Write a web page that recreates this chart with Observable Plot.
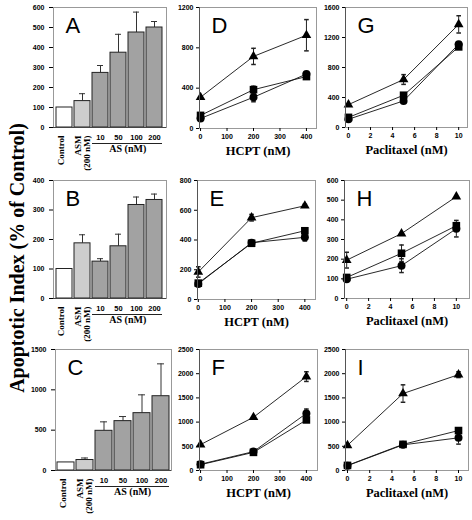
<!DOCTYPE html>
<html><head><meta charset="utf-8">
<script src="https://cdn.jsdelivr.net/npm/d3@7"></script>
<script src="https://cdn.jsdelivr.net/npm/@observablehq/plot@0.6"></script>
<style>
body{margin:0;background:#fff;}
#fig{position:relative;width:472px;height:520px;overflow:hidden;background:#fff;}
#fig svg{position:absolute;}
#ytitle{position:absolute;width:340px;left:-154px;top:248px;height:20px;line-height:20px;text-align:center;
  transform:rotate(-90deg);font:bold 20px 'Liberation Serif','Times New Roman',serif;white-space:nowrap;color:#000;}
</style></head>
<body><div id="fig"><div id="ytitle">Apoptotic Index (% of Control)</div></div>
<script>
// ---------- data ----------
const barCategories = ["Control","ASM","10","50","100","200"];
const barKinds = ["control","asm","as","as","as","as"];
const barA = [100,132,273,374,475,500];
const barAErr = [0,37,37,92,102,30];
const barB = [100,187,125,177,317,334];
const barBErr = [0,29,10,41,27,20];
const barC = [100,130,492,612,711,921];
const barCErr = [0,25,111,57,227,401];
const barATicks = [0,100,200,300,400,500,600];
const barBTicks = [0,100,200,300,400];
const barCTicks = [0,500,1000,1500];

const hcptDoses = [0,200,400];
const hcptTicks = [0,100,200,300,400];
const paclitaxelDoses = [0,5,10];
const paclitaxelTicks = [0,2,4,6,8,10];

const dTri = [310,715,925],   dTriErr = [0,80,155];
const dSq  = [130,385,515],   dSqErr  = [0,35,0];
const dCirc= [100,310,540],   dCircErr= [20,45,20];
const dTicks = [0,400,800,1200];

const eTri = [185,550,630],   eTriErr = [35,22,10];
const eSq  = [110,378,462],   eSqErr  = [10,0,10];
const eCirc= [105,382,418],   eCircErr= [10,10,25];
const eTicks = [0,200,400,600,800];

const fTri = [535,1100,1940], fTriErr = [0,0,100];
const fSq  = [120,375,1045],  fSqErr  = [0,0,0];
const fCirc= [130,390,1180],  fCircErr= [0,0,90];
const fTicks = [0,500,1000,1500,2000,2500];

const gTri = [305,640,1375],  gTriErr = [0,65,115];
const gSq  = [135,430,1075],  gSqErr  = [0,0,30];
const gCirc= [110,355,1110],  gCircErr= [0,0,20];
const gTicks = [0,400,800,1200,1600];

const hTri = [195,330,518],   hTriErr = [40,0,0];
const hSq  = [107,230,370],   hSqErr  = [0,42,15];
const hCirc= [98,167,355],    hCircErr= [0,35,42];
const hTicks = [0,100,200,300,400,500,600];

const iTri = [520,1590,1980], iTriErr = [0,180,60];
const iSq  = [105,540,825],   iSqErr  = [0,0,0];
const iCirc= [100,530,675],   iCircErr= [0,0,130];
const iTicks = [0,500,1000,1500,2000,2500];

// ---------- helpers ----------
const SANS = "'Liberation Sans', Arial, sans-serif";
const SERIF = "'Liberation Serif', 'Times New Roman', serif";
const M = {l:42, r:8, t:8, b:52};
const fig = document.getElementById("fig");
const capSymbol = {draw(ctx, size){ const w = Math.sqrt(size/Math.PI); ctx.moveTo(-w,0); ctx.lineTo(w,0); }};
const plain = d => String(d);

function baseOpts(box){
  return {width: box[2]-box[0]+M.l+M.r, height: box[3]-box[1]+M.t+M.b,
    marginLeft:M.l, marginRight:M.r, marginTop:M.t, marginBottom:M.b,
    style:{background:"transparent", overflow:"visible", fontFamily:SANS, color:"#000"}};
}
function place(svg, box){
  svg.style.left = (box[0]-M.l)+"px";
  svg.style.top = (box[1]-M.t)+"px";
  fig.appendChild(svg);
}
function letterMark(letter){
  return Plot.text([letter], {text:d=>d, frameAnchor:"top-left", dx:12, dy:10, lineAnchor:"top",
    fontSize:22, fontFamily:SANS, fill:"#000"});
}

function barPanel(box, letter, values, errs, yMax, yTicks){
  const rows = barCategories.map((c,i)=>({cat:c, v:values[i], top:values[i]+errs[i], kind:barKinds[i]}));
  const errRows = rows.filter(d=>d.top>d.v);
  const xs = d3.scaleBand(barCategories,[0, box[2]-box[0]]).padding(0.1);
  const svg = Plot.plot({
    ...baseOpts(box),
    x:{domain:barCategories, padding:0.1, axis:null},
    y:{domain:[0,yMax], axis:null},
    color:{domain:["control","asm","as"], range:["#ffffff","#cdcdcd","#a2a2a2"]},
    marks:[
      Plot.ruleX(errRows,{x:"cat", y1:"v", y2:"top", stroke:"#333"}),
      Plot.tickY(errRows,{x:"cat", y:"top", stroke:"#333", insetLeft:5, insetRight:5}),
      Plot.barY(rows,{x:"cat", y:"v", fill:"kind", stroke:"#222"}),
      Plot.frame({stroke:"#999"}),
      Plot.axisY({ticks:yTicks, tickSize:4, tickPadding:5, fontSize:7, fontWeight:"bold", label:null, tickFormat:plain}),
      Plot.ruleY([0],{stroke:"#444"}),
      Plot.text([{cat:"Control", t:"Control"}],{x:"cat", text:"t", frameAnchor:"bottom", dx:-3, dy:8,
        rotate:-90, textAnchor:"end", lineAnchor:"middle", fontFamily:SERIF, fontWeight:"bold", fontSize:9}),
      Plot.text([{cat:"ASM", t:"ASM\n(200 nM)"}],{x:"cat", text:"t", frameAnchor:"bottom", dx:0, dy:8,
        rotate:-90, textAnchor:"end", lineAnchor:"middle", lineHeight:1.0, fontFamily:SERIF, fontWeight:"bold", fontSize:9}),
      Plot.text(rows.slice(2),{x:"cat", text:"cat", frameAnchor:"bottom", dy:12, fontSize:7.5, fontWeight:"bold", fontFamily:SANS}),
      Plot.ruleY([{a:"10", b:"200"}],{x1:"a", x2:"b", y:()=>0, dy:16, stroke:"#222"}),
      Plot.text([{t:"AS (nM)"}],{x:()=>"50", text:"t", frameAnchor:"bottom", dx:xs.step()/2, dy:24,
        fontFamily:SERIF, fontWeight:"bold", fontSize:10}),
      letterMark(letter)
    ]
  });
  place(svg, box);
}

function linePanel(box, letter, doses, xDomain, xTicks, yMax, yTicks, xLabel, tri, triErr, sq, sqErr, circ, circErr){
  const series = [{name:"tri", v:tri, e:triErr, symbol:"triangle", r:3.6},
                  {name:"sq", v:sq, e:sqErr, symbol:"square", r:4.3},
                  {name:"circ", v:circ, e:circErr, symbol:"circle", r:4}];
  const rows = series.flatMap(s=>doses.map((x,i)=>({s:s.name, x, v:s.v[i], lo:s.v[i]-s.e[i], hi:s.v[i]+s.e[i], e:s.e[i]})));
  const errRows = rows.filter(d=>d.e>0);
  const svg = Plot.plot({
    ...baseOpts(box),
    x:{domain:xDomain, axis:null},
    y:{domain:[0,yMax], axis:null},
    marks:[
      Plot.frame({stroke:"#999"}),
      Plot.ruleX(errRows,{x:"x", y1:"lo", y2:"hi", stroke:"#222"}),
      Plot.dot(errRows,{x:"x", y:"lo", symbol:capSymbol, r:2.3, fill:"none", stroke:"#222"}),
      Plot.dot(errRows,{x:"x", y:"hi", symbol:capSymbol, r:2.3, fill:"none", stroke:"#222"}),
      Plot.lineY(rows,{x:"x", y:"v", z:"s", stroke:"#111", strokeWidth:0.9}),
      ...series.map(s=>Plot.dot(rows.filter(d=>d.s===s.name),{x:"x", y:"v", symbol:s.symbol, r:s.r, fill:"#000", stroke:"none"})),
      Plot.axisY({ticks:yTicks, tickSize:3, tickPadding:3, fontSize:7, fontWeight:"bold", label:null, tickFormat:plain}),
      Plot.axisX({ticks:xTicks, tickSize:3, tickPadding:3, fontSize:7, fontWeight:"bold", label:null, tickFormat:plain}),
      Plot.ruleX([xDomain[0]],{stroke:"#555"}),
      Plot.text([xLabel],{text:d=>d, frameAnchor:"bottom", dy:26, fontFamily:SERIF, fontWeight:"bold", fontSize:12.5}),
      letterMark(letter)
    ]
  });
  place(svg, box);
}

// ---------- panels ----------
barPanel([53,7,166,127], "A", barA, barAErr, 600, barATicks);
barPanel([53,180,166,298], "B", barB, barBErr, 400, barBTicks);
barPanel([55,349,171,470], "C", barC, barCErr, 1500, barCTicks);

linePanel([199,7,316,128], "D", hcptDoses, [-4,438], hcptTicks, 1200, dTicks, "HCPT (nM)", dTri, dTriErr, dSq, dSqErr, dCirc, dCircErr);
linePanel([197,180,315,299], "E", hcptDoses, [-3,440], hcptTicks, 800, eTicks, "HCPT (nM)", eTri, eTriErr, eSq, eSqErr, eCirc, eCircErr);
linePanel([199,349,317,470], "F", hcptDoses, [-4,442], hcptTicks, 2500, fTicks, "HCPT (nM)", fTri, fTriErr, fSq, fSqErr, fCirc, fCircErr);

linePanel([345,7,467,127], "G", paclitaxelDoses, [-0.27,10.8], paclitaxelTicks, 1600, gTicks, "Paclitaxel (nM)", gTri, gTriErr, gSq, gSqErr, gCirc, gCircErr);
linePanel([344,180,469,298], "H", paclitaxelDoses, [-0.2,11.2], paclitaxelTicks, 600, hTicks, "Paclitaxel (nM)", hTri, hTriErr, hSq, hSqErr, hCirc, hCircErr);
linePanel([345,349,468,470], "I", paclitaxelDoses, [-0.18,10.9], paclitaxelTicks, 2500, iTicks, "Paclitaxel (nM)", iTri, iTriErr, iSq, iSqErr, iCirc, iCircErr);
</script>
</body></html>
